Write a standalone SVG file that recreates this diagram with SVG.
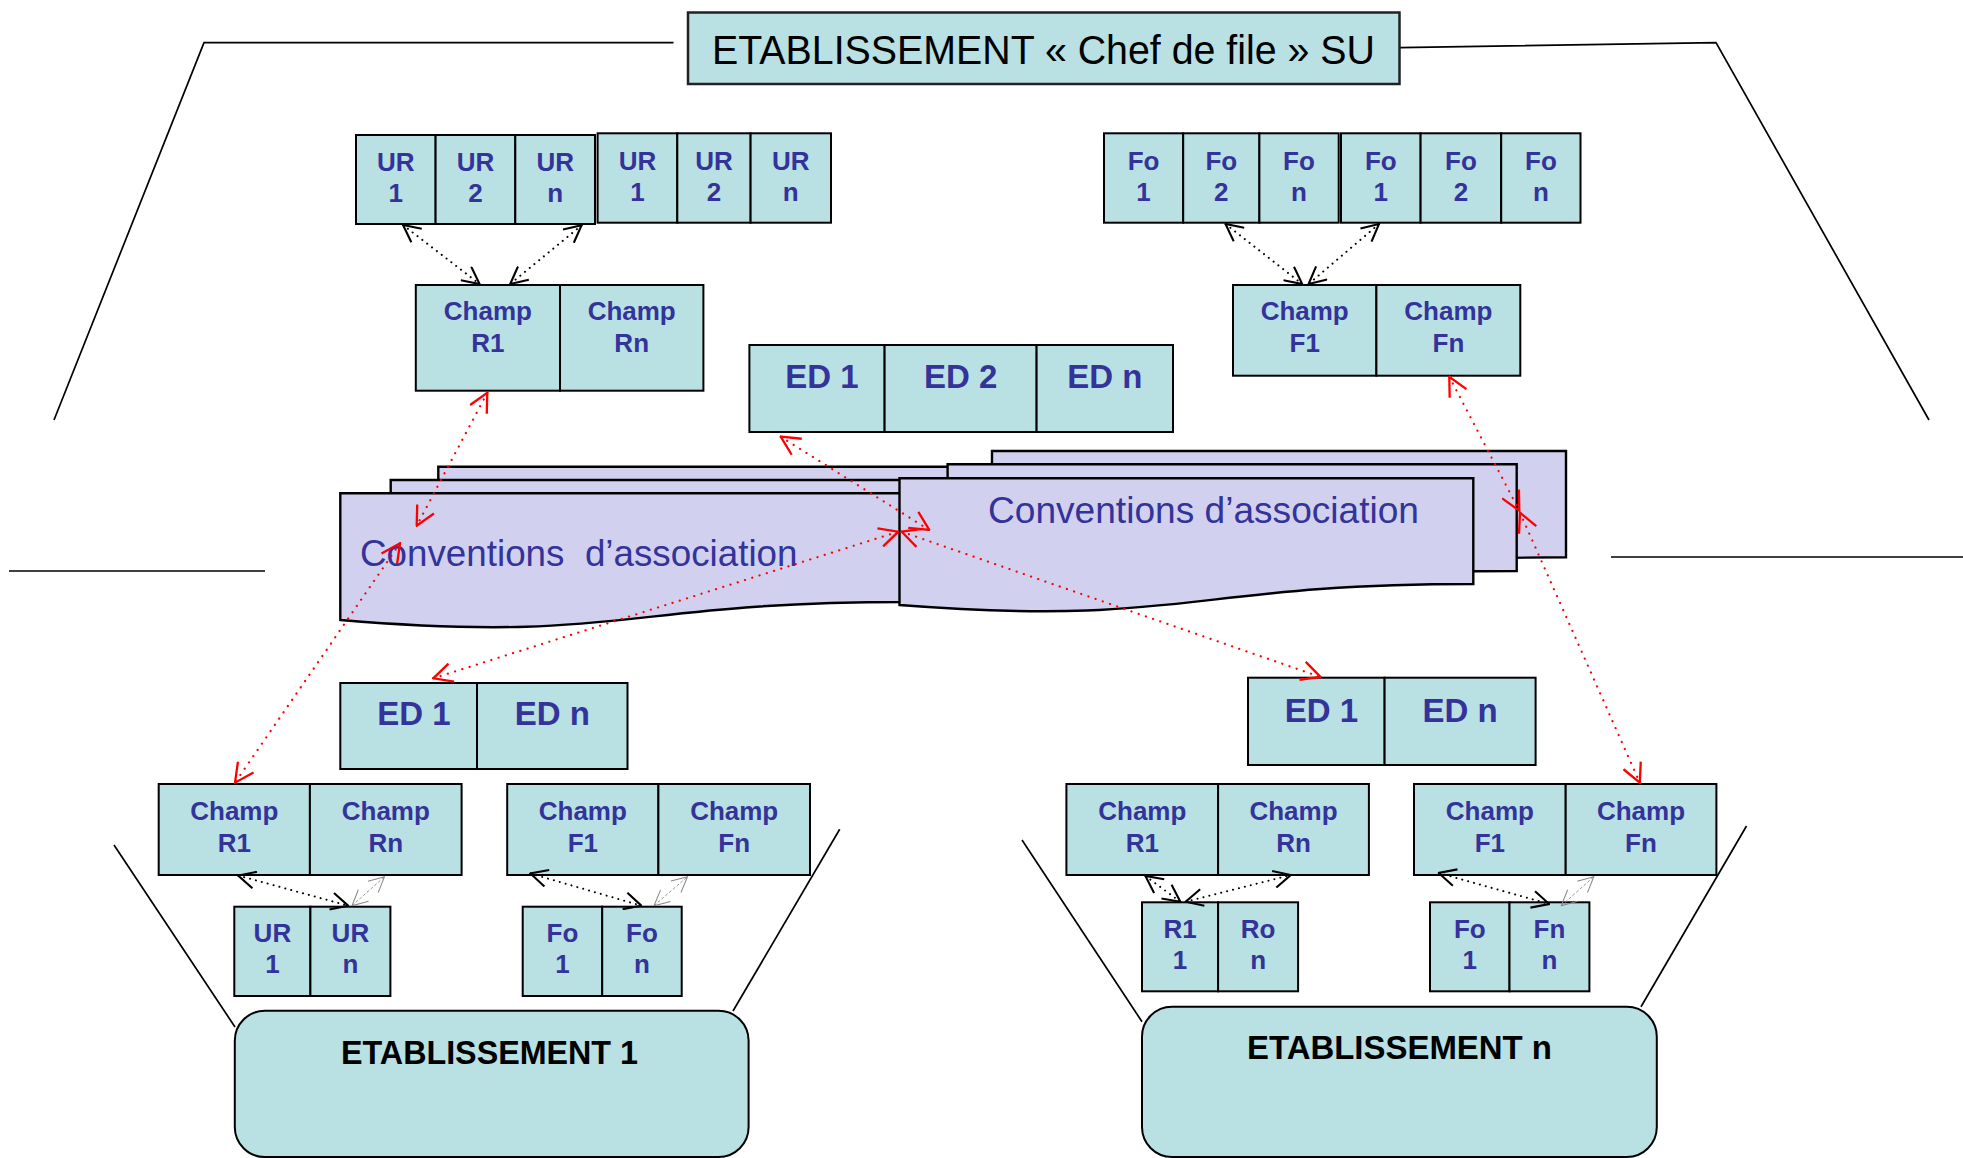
<svg xmlns="http://www.w3.org/2000/svg" width="1963" height="1158" viewBox="0 0 1963 1158">
<style>
.box{fill:#B9E0E3;stroke:#000;stroke-width:2}
.doc{fill:#D1D1EF;stroke:#000;stroke-width:2.4}
.t{font-family:"Liberation Sans",Arial,sans-serif;font-weight:bold;font-size:26px;fill:#333399;text-anchor:middle}
.ed{font-size:33px}
.conv{font-family:"Liberation Sans",Arial,sans-serif;font-size:37px;fill:#333399;white-space:pre}
.etab{font-family:"Liberation Sans",Arial,sans-serif;font-size:34px;font-weight:bold;fill:#000}
.title{font-family:"Liberation Sans",Arial,sans-serif;font-size:41px;fill:#000}
.ln{stroke:#000;stroke-width:1.7;fill:none}
.rd{stroke:#f00;stroke-width:2.2;stroke-dasharray:0.1 7.5;stroke-linecap:round;fill:none;marker-start:url(#ar);marker-end:url(#ar)}
.bd{stroke:#000;stroke-width:2;stroke-dasharray:0.1 6;stroke-linecap:round;fill:none;marker-start:url(#ab);marker-end:url(#ab)}
.gd{stroke:#999;stroke-width:1;stroke-dasharray:3 2;fill:none;marker-start:url(#ag);marker-end:url(#ag)}
</style>
<defs>
<marker id="ar" viewBox="0 0 20 20" refX="19" refY="10" markerWidth="21" markerHeight="21" markerUnits="userSpaceOnUse" orient="auto-start-reverse"><path d="M1,1 L19,10 L1,19" fill="none" stroke="#f00" stroke-width="2.2"/></marker>
<marker id="ab" viewBox="0 0 20 20" refX="19" refY="10" markerWidth="19" markerHeight="19" markerUnits="userSpaceOnUse" orient="auto-start-reverse"><path d="M1,1 L19,10 L1,19" fill="none" stroke="#000" stroke-width="2.2"/></marker>
<marker id="ag" viewBox="0 0 20 20" refX="19" refY="10" markerWidth="17" markerHeight="17" markerUnits="userSpaceOnUse" orient="auto-start-reverse"><path d="M1,1 L19,10 L1,19" fill="none" stroke="#888" stroke-width="1.2"/></marker>
</defs>
<rect width="1963" height="1158" fill="#fff"/>

<g id="frame-lines">
<polyline class="ln" points="673.5,42.6 204,42.6 54,420"/>
<polyline class="ln" points="1399.6,47.6 1716,42.6 1929,420"/>
<line class="ln" stroke-width="2.4" x1="9" y1="571" x2="265" y2="571"/>
<line class="ln" stroke-width="2.4" x1="1611" y1="557" x2="1963" y2="557"/>
<line class="ln" x1="114" y1="845" x2="235" y2="1027"/>
<line class="ln" x1="839.7" y1="829.3" x2="733" y2="1011"/>
<line class="ln" x1="1022" y1="840" x2="1142" y2="1021.7"/>
<line class="ln" x1="1746.5" y1="826" x2="1641" y2="1006.7"/>
</g>

<g id="title">
<rect x="688" y="12.5" width="711.5" height="71.5" fill="#B9E0E3" stroke="#222" stroke-width="2.5"/>
<text class="title" x="712" y="64" textLength="663" lengthAdjust="spacingAndGlyphs">ETABLISSEMENT « Chef de file » SU</text>
</g>

<g id="ur-top-1">
<rect class="box" x="356" y="135" width="79.6" height="89"/>
<rect class="box" x="435.6" y="135" width="79.7" height="89"/>
<rect class="box" x="515.3" y="135" width="79.7" height="89"/>
<text class="t" x="395.8" y="170.7">UR</text><text class="t" x="395.8" y="202.3">1</text>
<text class="t" x="475.5" y="170.7">UR</text><text class="t" x="475.5" y="202.3">2</text>
<text class="t" x="555.2" y="170.7">UR</text><text class="t" x="555.2" y="202.3">n</text>
</g>
<g id="ur-top-2">
<rect class="box" x="597.6" y="133.3" width="79.7" height="89.4"/>
<rect class="box" x="677.3" y="133.3" width="73.3" height="89.4"/>
<rect class="box" x="750.6" y="133.3" width="80.4" height="89.4"/>
<text class="t" x="637.5" y="169.5">UR</text><text class="t" x="637.5" y="201">1</text>
<text class="t" x="714" y="169.5">UR</text><text class="t" x="714" y="201">2</text>
<text class="t" x="790.8" y="169.5">UR</text><text class="t" x="790.8" y="201">n</text>
</g>
<g id="fo-top-1">
<rect class="box" x="1104" y="133.3" width="79.2" height="89.4"/>
<rect class="box" x="1183.2" y="133.3" width="76.2" height="89.4"/>
<rect class="box" x="1259.4" y="133.3" width="79.3" height="89.4"/>
<text class="t" x="1143.6" y="169.5">Fo</text><text class="t" x="1143.6" y="201">1</text>
<text class="t" x="1221.3" y="169.5">Fo</text><text class="t" x="1221.3" y="201">2</text>
<text class="t" x="1299" y="169.5">Fo</text><text class="t" x="1299" y="201">n</text>
</g>
<g id="fo-top-2">
<rect class="box" x="1341" y="133.3" width="79.6" height="89.4"/>
<rect class="box" x="1420.6" y="133.3" width="80.6" height="89.4"/>
<rect class="box" x="1501.2" y="133.3" width="79.3" height="89.4"/>
<text class="t" x="1380.8" y="169.5">Fo</text><text class="t" x="1380.8" y="201">1</text>
<text class="t" x="1460.9" y="169.5">Fo</text><text class="t" x="1460.9" y="201">2</text>
<text class="t" x="1540.9" y="169.5">Fo</text><text class="t" x="1540.9" y="201">n</text>
</g>
<g id="champ-r-top">
<rect class="box" x="415.8" y="285" width="144.2" height="105.7"/>
<rect class="box" x="560" y="285" width="143.4" height="105.7"/>
<text class="t" x="487.9" y="319.5">Champ</text><text class="t" x="487.9" y="351.7">R1</text>
<text class="t" x="631.7" y="319.5">Champ</text><text class="t" x="631.7" y="351.7">Rn</text>
</g>
<g id="champ-f-top">
<rect class="box" x="1233" y="285" width="143.4" height="90.7"/>
<rect class="box" x="1376.4" y="285" width="143.9" height="90.7"/>
<text class="t" x="1304.7" y="320">Champ</text><text class="t" x="1304.7" y="351.7">F1</text>
<text class="t" x="1448.4" y="320">Champ</text><text class="t" x="1448.4" y="351.7">Fn</text>
</g>
<g id="ed-top">
<rect class="box" x="749.4" y="345" width="135.2" height="87"/>
<rect class="box" x="884.6" y="345" width="152" height="87"/>
<rect class="box" x="1036.6" y="345" width="136.4" height="87"/>
<text class="t ed" x="822" y="388">ED 1</text>
<text class="t ed" x="960.6" y="388">ED 2</text>
<text class="t ed" x="1104.8" y="388">ED n</text>
</g>

<g id="conventions-left">
<path class="doc" d="M438.3,466.7 H1003 V573 C720,573 720,612 438.3,590 Z"/>
<path class="doc" d="M390.7,480 H955 V588 C672,588 672,627 390.7,605 Z"/>
<path class="doc" d="M340.3,493.3 H905 V602 C622.5,602 622.5,643.5 340.3,620 Z"/>
<text class="conv" xml:space="preserve" x="360" y="565.7" textLength="437.5" lengthAdjust="spacingAndGlyphs">Conventions  d’association</text>
</g>
<g id="conventions-right">
<path class="doc" d="M992,451 H1566 V557.3 C1279,557.3 1279,600 992,575 Z"/>
<path class="doc" d="M947.6,464.3 H1516.7 V571 C1232,571 1232,614 947.6,589 Z"/>
<path class="doc" d="M899.5,478.3 H1473.3 V584 C1186.4,584 1186.4,627 899.5,605 Z"/>
<text class="conv" x="988" y="523" textLength="431" lengthAdjust="spacingAndGlyphs">Conventions d’association</text>
</g>

<g id="ed-left">
<rect class="box" x="340.3" y="683" width="136.7" height="86"/>
<rect class="box" x="477" y="683" width="150.5" height="86"/>
<text class="t ed" x="414" y="725">ED 1</text>
<text class="t ed" x="552.3" y="725">ED n</text>
</g>
<g id="ed-right">
<rect class="box" x="1248" y="677.7" width="136.6" height="87.3"/>
<rect class="box" x="1384.6" y="677.7" width="151" height="87.3"/>
<text class="t ed" x="1321.5" y="721.7">ED 1</text>
<text class="t ed" x="1460.1" y="721.7">ED n</text>
</g>

<g id="champ-r-etab1">
<rect class="box" x="158.7" y="784" width="151.2" height="91"/>
<rect class="box" x="309.9" y="784" width="151.7" height="91"/>
<text class="t" x="234.3" y="820">Champ</text><text class="t" x="234.3" y="851.7">R1</text>
<text class="t" x="385.8" y="820">Champ</text><text class="t" x="385.8" y="851.7">Rn</text>
</g>
<g id="champ-f-etab1">
<rect class="box" x="507.2" y="784" width="151.2" height="91"/>
<rect class="box" x="658.4" y="784" width="151.6" height="91"/>
<text class="t" x="582.8" y="820">Champ</text><text class="t" x="582.8" y="851.7">F1</text>
<text class="t" x="734.2" y="820">Champ</text><text class="t" x="734.2" y="851.7">Fn</text>
</g>
<g id="ur-etab1">
<rect class="box" x="234.3" y="906.7" width="76.1" height="89.3"/>
<rect class="box" x="310.4" y="906.7" width="80" height="89.3"/>
<text class="t" x="272.4" y="941.7">UR</text><text class="t" x="272.4" y="973.3">1</text>
<text class="t" x="350.4" y="941.7">UR</text><text class="t" x="350.4" y="973.3">n</text>
</g>
<g id="fo-etab1">
<rect class="box" x="522.7" y="906.7" width="79.5" height="89.3"/>
<rect class="box" x="602.2" y="906.7" width="79.5" height="89.3"/>
<text class="t" x="562.5" y="941.7">Fo</text><text class="t" x="562.5" y="973.3">1</text>
<text class="t" x="642" y="941.7">Fo</text><text class="t" x="642" y="973.3">n</text>
</g>
<g id="etab1">
<rect class="box" x="234.8" y="1010.7" width="513.8" height="146.3" rx="30" ry="30"/>
<text class="etab" x="341" y="1064" textLength="297" lengthAdjust="spacingAndGlyphs">ETABLISSEMENT 1</text>
</g>

<g id="champ-r-etabn">
<rect class="box" x="1066.4" y="784" width="151.7" height="91"/>
<rect class="box" x="1218.1" y="784" width="150.8" height="91"/>
<text class="t" x="1142.3" y="820">Champ</text><text class="t" x="1142.3" y="851.7">R1</text>
<text class="t" x="1293.5" y="820">Champ</text><text class="t" x="1293.5" y="851.7">Rn</text>
</g>
<g id="champ-f-etabn">
<rect class="box" x="1414" y="784" width="151.7" height="91"/>
<rect class="box" x="1565.7" y="784" width="150.7" height="91"/>
<text class="t" x="1489.9" y="820">Champ</text><text class="t" x="1489.9" y="851.7">F1</text>
<text class="t" x="1641" y="820">Champ</text><text class="t" x="1641" y="851.7">Fn</text>
</g>
<g id="r-etabn">
<rect class="box" x="1142" y="902.3" width="76.1" height="89"/>
<rect class="box" x="1218.1" y="902.3" width="80" height="89"/>
<text class="t" x="1180" y="937.7">R1</text><text class="t" x="1180" y="969.3">1</text>
<text class="t" x="1258.1" y="937.7">Ro</text><text class="t" x="1258.1" y="969.3">n</text>
</g>
<g id="fo-etabn">
<rect class="box" x="1430" y="902.3" width="79.5" height="89"/>
<rect class="box" x="1509.5" y="902.3" width="79.9" height="89"/>
<text class="t" x="1469.8" y="937.7">Fo</text><text class="t" x="1469.8" y="969.3">1</text>
<text class="t" x="1549.5" y="937.7">Fn</text><text class="t" x="1549.5" y="969.3">n</text>
</g>
<g id="etabn">
<rect class="box" x="1142" y="1006.7" width="514.8" height="150.3" rx="30" ry="30"/>
<text class="etab" x="1247" y="1059.3" textLength="305" lengthAdjust="spacingAndGlyphs">ETABLISSEMENT n</text>
</g>

<g id="connectors">
<line class="bd" x1="403" y1="225" x2="479.6" y2="284"/>
<line class="bd" x1="581.6" y1="225.3" x2="510.2" y2="284"/>
<line class="bd" x1="1225.5" y1="224" x2="1302.2" y2="284"/>
<line class="bd" x1="1379" y1="224" x2="1308.6" y2="284"/>
<line class="bd" x1="238.2" y1="875.5" x2="348.2" y2="905.7"/>
<line class="gd" x1="352" y1="905.7" x2="384.5" y2="876.7"/>
<line class="bd" x1="530.4" y1="873.5" x2="641.4" y2="905.7"/>
<line class="gd" x1="654" y1="905.7" x2="687.5" y2="876.7"/>
<line class="bd" x1="1145.4" y1="876" x2="1180.3" y2="901.7"/>
<line class="bd" x1="1185.7" y1="901.7" x2="1290.8" y2="875"/>
<line class="bd" x1="1438.7" y1="873" x2="1549.2" y2="904"/>
<line class="gd" x1="1561.3" y1="905.7" x2="1593.8" y2="876.7"/>
<line class="rd" x1="487.3" y1="392.7" x2="416.7" y2="525.7"/>
<line class="rd" x1="400" y1="543.3" x2="235" y2="782.7"/>
<line class="rd" x1="780.7" y1="436.7" x2="929.3" y2="530"/>
<line class="rd" x1="433.3" y1="678.3" x2="898.3" y2="531.7"/>
<line class="rd" x1="901.7" y1="531.7" x2="1320.5" y2="677"/>
<line class="rd" x1="1449.3" y1="376.7" x2="1519.3" y2="510.7"/>
<line class="rd" x1="1520" y1="512.7" x2="1639.8" y2="782.7"/>
</g>
</svg>
